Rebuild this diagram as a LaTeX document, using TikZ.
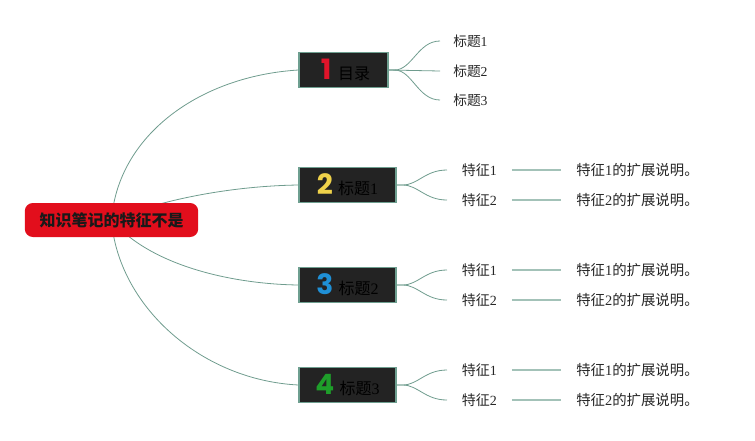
\documentclass[tikz,border=0pt]{standalone}
\usepackage{fontspec}
\setmainfont{Liberation Serif}
\newfontfamily\cjk{Noto Sans CJK SC}
\newfontfamily\numfont{Poppins}
\usetikzlibrary{backgrounds}
\definecolor{rootred}{HTML}{E20E1C}
\definecolor{boxfill}{HTML}{232323}
\definecolor{boxline}{HTML}{6E9F90}
\definecolor{link}{HTML}{6F9C8E}
\definecolor{hline}{HTML}{A3C2B8}
\definecolor{nred}{HTML}{E0142A}
\definecolor{nyellow}{HTML}{EFD24A}
\definecolor{nblue}{HTML}{1F90D6}
\definecolor{ngreen}{HTML}{1E9E2A}
\tikzset{
  rootbox/.style={fill=rootred, rounded corners=6pt, minimum width=130pt, minimum height=25.5pt, inner sep=0pt, font=\cjk\bfseries\fontsize{12}{14}\selectfont, text=black!90},
  topicbox/.style={fill=boxfill, draw=boxline, line width=0.9pt, minimum height=26.25pt, inner sep=0pt, font=\cjk\fontsize{12}{14}\selectfont, text=black},
  titletext/.style={anchor=west, inner xsep=9.75pt, inner ysep=0pt, font=\fontsize{10.3}{12}\selectfont, text=black!85},
  feattext/.style={anchor=west, inner xsep=11pt, inner ysep=0pt, font=\fontsize{10.5}{12}\selectfont, text=black!85},
  exttext/.style={anchor=west, inner xsep=11.25pt, inner ysep=0pt, font=\fontsize{10.8}{12}\selectfont, text=black!85},
  curve/.style={draw=link, line width=0.6pt},
  straight/.style={draw=hline, line width=1.1pt}
}
\begin{document}
\begin{tikzpicture}[x=0.75pt, y=-0.75pt]
\path[use as bounding box] (0,0) rectangle (755,440);

\node[rootbox] (root) at (111.5,220) {知识笔记的特征不是};

\node[topicbox, minimum width=66.75pt] (t1) at (343.5,70) {\hspace{3pt}{\numfont\bfseries\color{nred}\fontsize{21}{22}\selectfont 1}\hspace{5pt}目录\hspace{2pt}};
\node[topicbox, minimum width=72.75pt] (t2) at (347.5,185) {{\numfont\bfseries\color{nyellow}\fontsize{21}{22}\selectfont 2}\hspace{4pt}标题{\rmfamily 1}};
\node[topicbox, minimum width=72.75pt] (t3) at (347.5,285) {{\numfont\bfseries\color{nblue}\fontsize{21}{22}\selectfont 3}\hspace{4pt}标题{\rmfamily 2}};
\node[topicbox, minimum width=72.75pt] (t4) at (347.5,385) {{\numfont\bfseries\color{ngreen}\fontsize{21}{22}\selectfont 4}\hspace{4pt}标题{\rmfamily 3}};

% first topic children
\node[titletext] (a1) at (440,41) {{\cjk 标题}1};
\node[titletext] (a2) at (440,71) {{\cjk 标题}2};
\node[titletext] (a3) at (440,100) {{\cjk 标题}3};

% features
\foreach \t/\y in {2/170, 3/270, 4/370}{
  \node[feattext] (f\t a) at (447,\y) {{\cjk 特征}1};
  \node[exttext] (e\t a) at (561,\y) {{\cjk 特征}1{\cjk 的扩展说明。}};
  \node[feattext] (f\t b) at (447,\y+30) {{\cjk 特征}2};
  \node[exttext] (e\t b) at (561,\y+30) {{\cjk 特征}2{\cjk 的扩展说明。}};
  \draw[straight] (f\t a.east) -- (e\t a.west);
  \draw[straight] (f\t b.east) -- (e\t b.west);
}

\begin{scope}[on background layer]
\draw[curve] (root.center) .. controls (118,135) and (200,76) .. (t1.west);
\draw[curve] (root.center) .. controls (160,200) and (230,186) .. (t2.west);
\draw[curve] (root.center) .. controls (150,265) and (230,284) .. (t3.west);
\draw[curve] (root.center) .. controls (118,305) and (200,380) .. (t4.west);
\end{scope}

\draw[curve] (t1.east) -- ++(6,0) .. controls (412,70) and (418,41) .. (a1.west);
\draw[curve] (t1.east) -- (a2.west);
\draw[curve] (t1.east) -- ++(6,0) .. controls (412,70) and (418,100) .. (a3.west);

\foreach \t/\y in {2/185, 3/285, 4/385}{
  \draw[curve] (t\t.east) -- ++(6,0) .. controls (418,\y) and (425,\y-15) .. (f\t a.west);
  \draw[curve] (t\t.east) -- ++(6,0) .. controls (418,\y) and (425,\y+15) .. (f\t b.west);
}
\end{tikzpicture}
\end{document}
